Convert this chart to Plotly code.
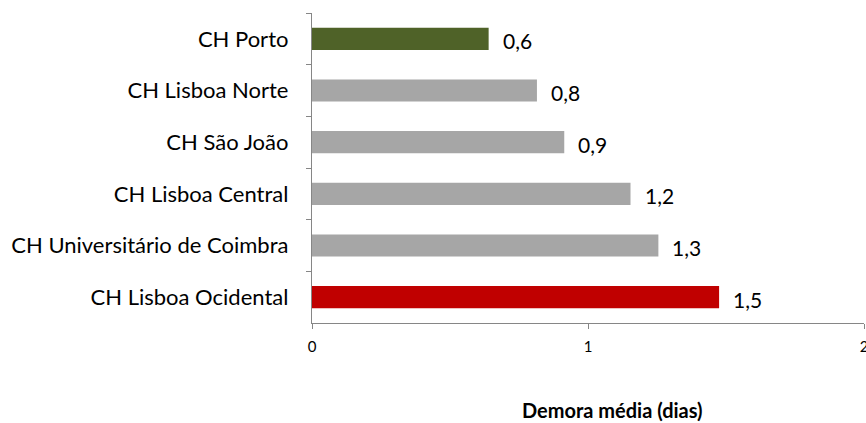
import plotly.graph_objects as go

categories = ["CH Porto", "CH Lisboa Norte", "CH São João", "CH Lisboa Central",
              "CH Universitário de Coimbra", "CH Lisboa Ocidental"]
values = [0.64, 0.815, 0.914, 1.154, 1.255, 1.475]
value_labels = ["0,6", "0,8", "0,9", "1,2", "1,3", "1,5"]
bar_colors = ["#4F6228", "#A6A6A6", "#A6A6A6", "#A6A6A6", "#A6A6A6", "#C00000"]
x_ticks = [0, 1, 2]
x_title = "Demora média (dias)"

FONT = "Lato"
AXIS_COLOR = "#868686"

fig = go.Figure()
fig.add_trace(go.Bar(
    x=values, y=categories, orientation="h",
    marker=dict(color=bar_colors, line=dict(width=0)),
    width=0.43, hoverinfo="x+y",
))

for v, c, t in zip(values, categories, value_labels):
    fig.add_annotation(x=v, y=c, text=t, showarrow=False, xanchor="left",
                       xshift=12, yshift=-2,
                       font=dict(family=FONT, size=21, color="#000000"))

fig.add_annotation(xref="paper", yref="paper", x=0.545, y=-0.28,
                   text="<b>" + x_title + "</b>", showarrow=False,
                   xanchor="center", yanchor="middle",
                   font=dict(family=FONT, size=20, color="#000000"))

fig.update_layout(
    width=866, height=423,
    margin=dict(l=312, r=2, t=13, b=100, autoexpand=False),
    paper_bgcolor="white", plot_bgcolor="white",
    showlegend=False, bargap=0.57,
    font=dict(family=FONT, color="#000000"),
)
fig.update_xaxes(range=[0, 2], tickvals=x_ticks, ticktext=[str(t) for t in x_ticks],
                 ticks="outside", ticklen=5, tickcolor=AXIS_COLOR, tickwidth=1.3,
                 showline=True, linecolor=AXIS_COLOR, linewidth=1.3,
                 showgrid=False, zeroline=False, automargin=False,
                 ticklabelstandoff=5, ticklabeloverflow="allow",
                 tickfont=dict(family=FONT, size=15, color="#000000"))
fig.update_yaxes(autorange="reversed", tickson="boundaries",
                 ticks="outside", ticklen=5, tickcolor=AXIS_COLOR, tickwidth=1.3,
                 showline=True, linecolor=AXIS_COLOR, linewidth=1.3,
                 showgrid=False, zeroline=False, ticklabelstandoff=18,
                 automargin=False,
                 tickfont=dict(family=FONT, size=22, color="#000000"))

fig.write_html("out.html", config={"displayModeBar": False},
               post_script="document.body.style.margin='0';"
                           "document.body.style.overflow='hidden';")
